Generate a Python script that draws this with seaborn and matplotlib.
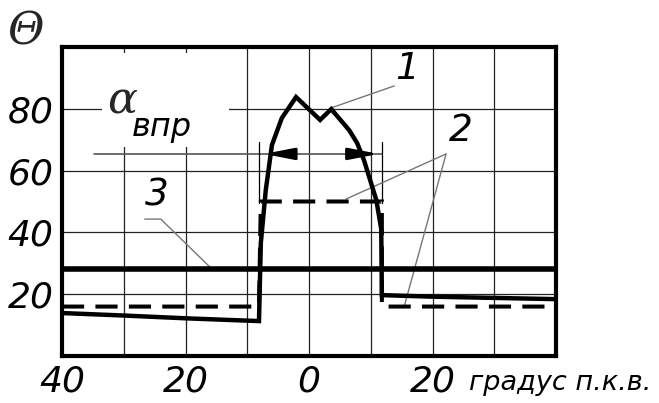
import matplotlib
matplotlib.use("Agg")
import matplotlib.pyplot as plt
from matplotlib.patches import Rectangle, FancyArrowPatch
import seaborn as sns
import pandas as pd

# ---- data ----
curve1_x = [-40, -30, -20, -8.1, -7.8, -7.0, -6.0, -4.4, -2.1, 1.8, 3.6, 6.5, 7.8, 8.9, 10.2, 10.9, 11.7, 11.8, 20, 30, 40]
curve1_y = [13.9, 13.1, 12.2, 11.3, 36.6, 53.7, 68.3, 77.0, 83.8, 76.4, 79.9, 73.1, 68.9, 63.4, 55.0, 50.5, 41.0, 19.7, 19.2, 18.8, 18.4]
curve2_x = [-40, -8.1, -7.8, 11.8, 11.8, 40]
curve2_y = [16, 16, 50, 50, 16, 16]
line3_x = [-40, 40]
line3_y = [28, 28]

x_ticks = [-40, -20, 0, 20]
x_labels = ["40", "20", "0", "20"]
y_ticks = [20, 40, 60, 80]
y_labels = ["20", "40", "60", "80"]
x_grid = [-30, -20, -10, 0, 10, 20, 30]
x_unit = "градус п.к.в."
y_name = "Θ"
curve_labels = ["1", "2", "3"]

sns.set_theme(style="white")
FAM = ["DejaVu Sans"]
plt.rcParams["font.family"] = FAM

fig = plt.figure(figsize=(6.59, 4.03), dpi=100)
ax = fig.add_axes([62/659, 1-356/403, (556-62)/659, (356-47)/403])
ax.set_xlim(-40, 40)
ax.set_ylim(0, 100)

# grid
for gx in x_grid:
    ax.axvline(gx, color="#222222", lw=0.9, zorder=1)
for gy in y_ticks:
    ax.axhline(gy, color="#222222", lw=0.9, zorder=1)

# white gap behind the alpha label
ax.add_patch(Rectangle((-33.5, 67.6), 20.5, 30.5, facecolor="white", edgecolor="none", zorder=2))

df1 = pd.DataFrame({"x": curve1_x, "y": curve1_y})
df2 = pd.DataFrame({"x": curve2_x, "y": curve2_y})
df3 = pd.DataFrame({"x": line3_x, "y": line3_y})
sns.lineplot(data=df3, x="x", y="y", ax=ax, color="black", lw=4.0, sort=False, estimator=None, zorder=4)
sns.lineplot(data=df2, x="x", y="y", ax=ax, color="black", lw=2.9, sort=False, estimator=None, zorder=5,
             linestyle=(0, (5.5, 2.8)), solid_joinstyle="miter", dash_joinstyle="miter")
sns.lineplot(data=df1, x="x", y="y", ax=ax, color="black", lw=3.2, sort=False, estimator=None, zorder=6,
             solid_joinstyle="miter")

# dimension line alpha_vpr
ax.plot([-34.8, 11.9], [65.4, 65.4], color="#555555", lw=1.2, zorder=3)
ax.plot([-8.1, -8.1], [49.5, 69.3], color="black", lw=0.9, zorder=3)
ax.plot([11.8, 11.8], [49.5, 69.3], color="black", lw=0.9, zorder=3)
for tail, tip in [((-3.0, 65.4), (-7.3, 65.4)), ((6.6, 65.4), (11.3, 65.4))]:
    ax.add_patch(FancyArrowPatch(tail, tip, arrowstyle="-|>,head_length=1.8,head_width=0.35",
                                 mutation_scale=10, color="black", lw=2.0, zorder=7,
                                 shrinkA=0, shrinkB=0))

# leaders
lead = dict(color="#777777", lw=1.0, zorder=3)
ax.plot([13.8, 3.6], [87.4, 80.3], **lead)
ax.plot([22.2, 6.0], [65.4, 50.8], **lead)
ax.plot([22.2, 15.4], [65.4, 15.9], **lead)
ax.plot([-26.6, -24.0, -15.9], [44.3, 44.3, 28.5], **lead)

tf = dict(family=FAM, style="italic", color="black")
ax.text(15.9, 92.9, curve_labels[0], fontsize=27, ha="center", va="center", zorder=8, **tf)
ax.text(24.6, 72.8, curve_labels[1], fontsize=27, ha="center", va="center", zorder=8,
        bbox=dict(facecolor="white", edgecolor="none", pad=1), **tf)
ax.text(-24.6, 51.8, curve_labels[2], fontsize=27, ha="center", va="center", zorder=8, **tf)
ax.text(-30.3, 82.5, "α", fontsize=32, ha="center", va="center", zorder=8,
        family="DejaVu Serif", style="italic")
ax.text(-23.9, 74.0, "впр", fontsize=23, ha="center", va="center", zorder=8, **tf)

# ticks
ax.set_xticks(x_ticks)
ax.set_xticklabels(x_labels)
ax.set_yticks(y_ticks)
ax.set_yticklabels(y_labels)
for lab in ax.get_xticklabels() + ax.get_yticklabels():
    lab.set_fontsize(26)
    lab.set_fontstyle("italic")
    lab.set_color("black")
ax.tick_params(axis="both", length=0, pad=6)
ax.set_xlabel("")
ax.set_ylabel("")
ax.text(25.9, -8.7, x_unit, fontsize=19.5, ha="left", va="center", transform=ax.transData,
        clip_on=False, **tf)
fig.text(26/659, 1-32/403, y_name, fontsize=32, ha="center", va="center",
         family="DejaVu Serif", style="italic")

for s in ax.spines.values():
    s.set_visible(True)
    s.set_color("black")
    s.set_linewidth(3.0)
    s.set_zorder(9)

fig.savefig("out.png", dpi=100)
